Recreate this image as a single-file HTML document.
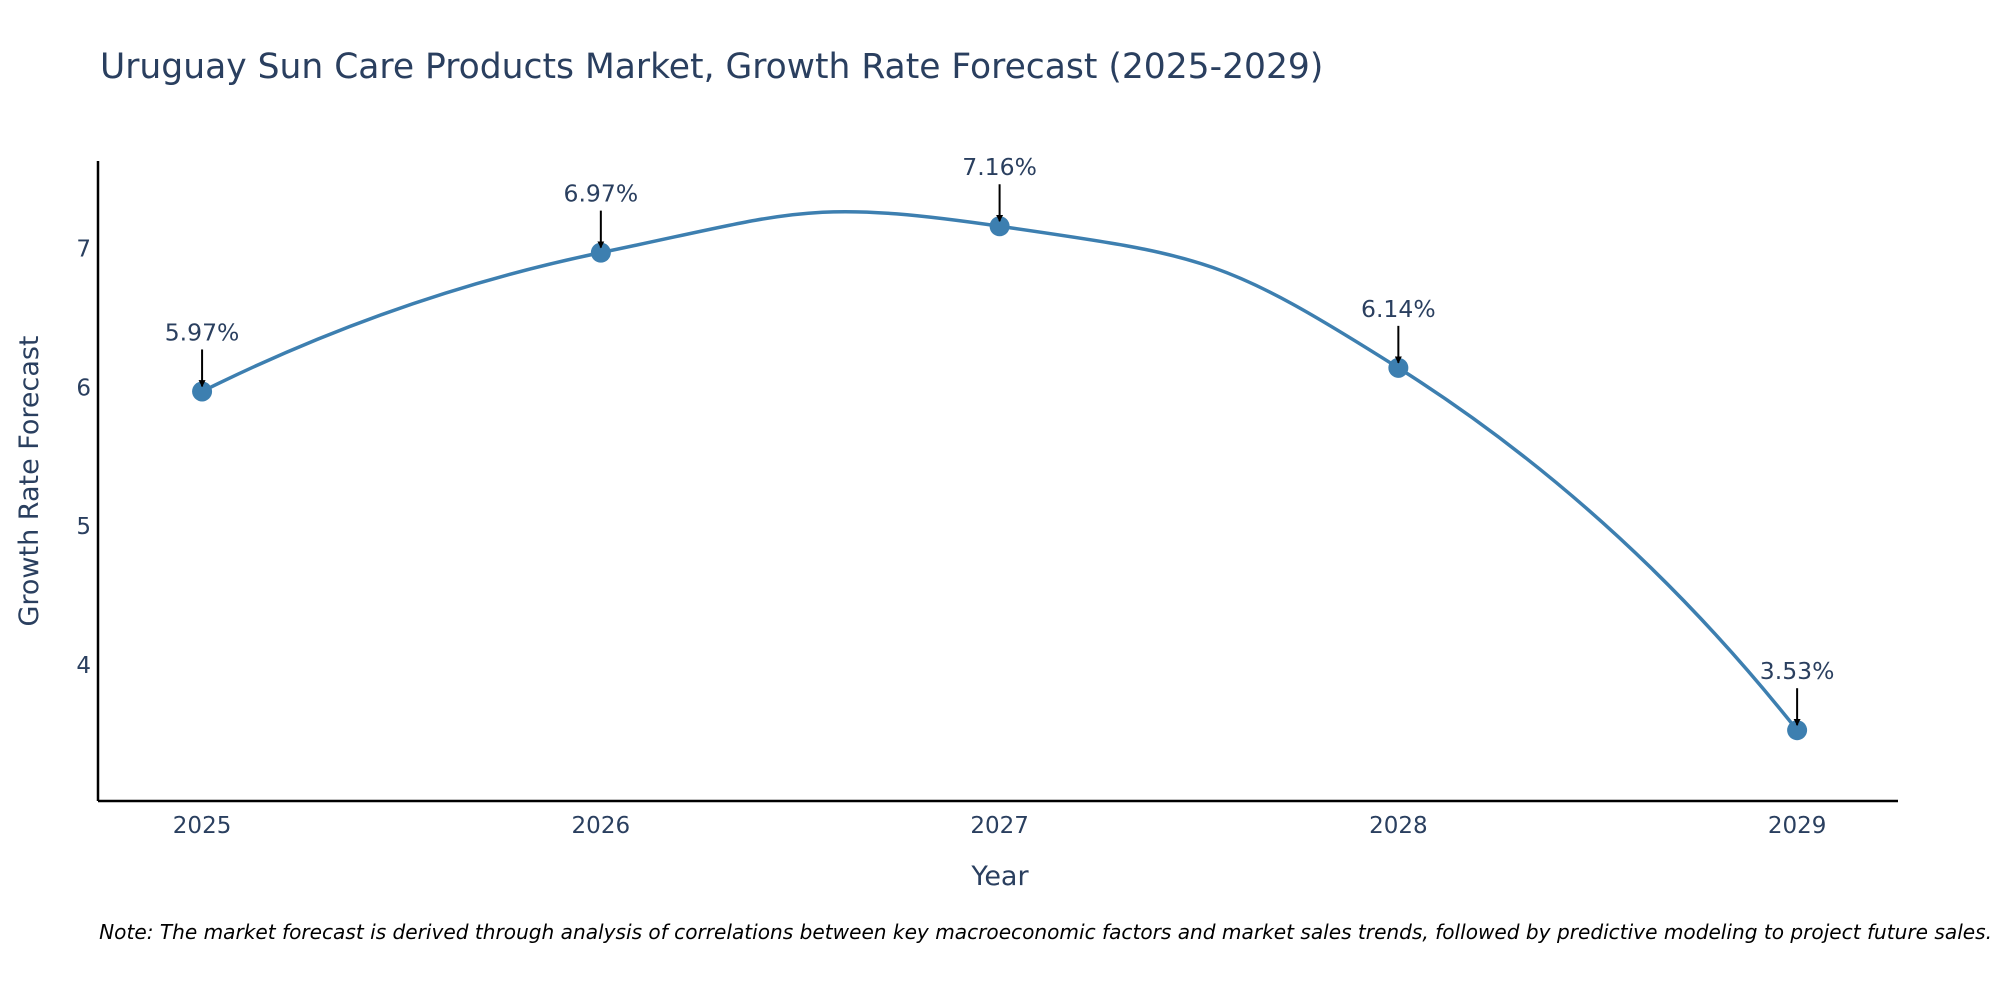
<!DOCTYPE html>
<html><head><meta charset="utf-8">
<style>
html,body{margin:0;padding:0;background:#fff;}
svg{display:block;font-family:"DejaVu Sans","Liberation Sans",sans-serif;}
</style></head>
<body>
<svg width="2000" height="1000" viewBox="0 0 2000 1000" id="chart">
<defs>
<marker id="arr" viewBox="0 0 10 10" refX="9" refY="5" markerWidth="7" markerHeight="7" markerUnits="userSpaceOnUse" orient="auto">
<path d="M0,0 L10,5 L0,10 z" fill="#000"/>
</marker>
</defs>
<text x="100" y="78" font-size="34.5" fill="#2a3f5f">Uruguay Sun Care Products Market, Growth Rate Forecast (2025-2029)</text>
<g id="plot"></g>
<text x="1000" y="885" font-size="27" fill="#2a3f5f" text-anchor="middle">Year</text>
<text transform="translate(38,481) rotate(-90)" font-size="27" fill="#2a3f5f" text-anchor="middle">Growth Rate Forecast</text>
<text x="1992" y="939" font-size="20.1" font-style="italic" fill="#000" text-anchor="end">Note: The market forecast is derived through analysis of correlations between key macroeconomic factors and market sales trends, followed by predictive modeling to project future sales.</text>
</svg>
<script>
const years = [2025, 2026, 2027, 2028, 2029];
const values = [5.97, 6.97, 7.16, 6.14, 3.53];
const labels = ["5.97%", "6.97%", "7.16%", "6.14%", "3.53%"];
const yTicks = [4, 5, 6, 7];

const NS = "http://www.w3.org/2000/svg";
const g = document.getElementById('plot');
const L = 98, R = 1898, T = 161, B = 801;
const xMin = 2024.739, xMax = 2029.253, yMin = 3.02, yMax = 7.63;
const xs = v => L + (v - xMin) / (xMax - xMin) * (R - L);
const ys = v => B - (v - yMin) / (yMax - yMin) * (B - T);
function mk(tag, attrs){const e=document.createElementNS(NS,tag);for(const k in attrs)e.setAttribute(k,attrs[k]);g.appendChild(e);return e;}

let ax = mk('line',{x1:L,y1:T,x2:L,y2:B,stroke:'#000','stroke-width':2.5});


ax = mk('line',{x1:L,y1:B,x2:R,y2:B,stroke:'#000','stroke-width':2.5});



yTicks.forEach(t=>{
  const e = mk('text',{x:91,y:ys(t)+8,'font-size':23,fill:'#2a3f5f','text-anchor':'end'});
  e.textContent = t;
  
  
});
years.forEach(y=>{
  const e = mk('text',{x:xs(y),y:833,'font-size':23,fill:'#2a3f5f','text-anchor':'middle'});
  e.textContent = y;
  
  
});

// plotly-like spline
const pts = years.map((y,i)=>[xs(y), ys(values[i])]);
const sm = 0.5;
const cps = [];
for(let i=1;i<pts.length-1;i++){
  const p0=pts[i-1],p1=pts[i],p2=pts[i+1];
  const d1=Math.hypot(p1[0]-p0[0],p1[1]-p0[1]), d2=Math.hypot(p2[0]-p1[0],p2[1]-p1[1]);
  const dx=p2[0]-p0[0], dy=p2[1]-p0[1];
  const f1=sm*d1/(d1+d2), f2=sm*d2/(d1+d2);
  cps[i]=[[p1[0]-dx*f1,p1[1]-dy*f1],[p1[0]+dx*f2,p1[1]+dy*f2]];
}
const n=pts.length;
let d = `M${pts[0][0]},${pts[0][1]} Q${cps[1][0][0]},${cps[1][0][1]} ${pts[1][0]},${pts[1][1]}`;
for(let i=1;i<n-2;i++){
  d += ` C${cps[i][1][0]},${cps[i][1][1]} ${cps[i+1][0][0]},${cps[i+1][0][1]} ${pts[i+1][0]},${pts[i+1][1]}`;
}
d += ` Q${cps[n-2][1][0]},${cps[n-2][1][1]} ${pts[n-1][0]},${pts[n-1][1]}`;
const line = mk('path',{d:d,fill:'none',stroke:'#3d7fb0','stroke-width':3.5});



pts.forEach((p,i)=>{
  const c = mk('circle',{cx:p[0],cy:p[1],r:10,fill:'#3d7fb0'});
  
  
  const a = mk('line',{x1:p[0],y1:p[1]-42,x2:p[0],y2:p[1]-5,stroke:'#000','stroke-width':2,'marker-end':'url(#arr)'});
  
  
  const t = mk('text',{x:p[0],y:p[1]-51,'font-size':23.5,fill:'#2a3f5f','text-anchor':'middle'});
  t.textContent = labels[i];
  
  
});
</script>
</body></html>
